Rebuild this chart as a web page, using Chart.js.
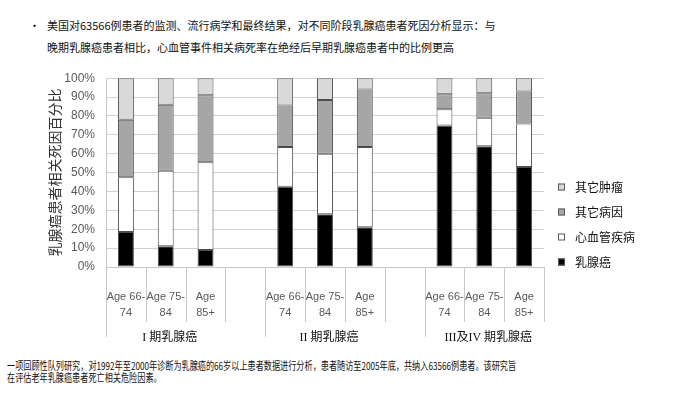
<!DOCTYPE html>
<html lang="zh">
  <head>
    <meta charset="UTF-8" />
    <title>乳腺癌患者死因分析</title>
    <style>
      body {
        margin: 0;
        width: 679px;
        height: 397px;
        background: #fff;
        position: relative;
        overflow: hidden;
        font-family: "Noto Sans CJK SC", sans-serif;
      }
      .head {
        position: absolute;
        left: 47px;
        top: 14px;
        font-size: 11px;
        line-height: 22px;
        color: #111;
      }
      .bullet {
        position: absolute;
        left: 29px;
        top: 14px;
        font-size: 11px;
        line-height: 22px;
      }
      .foot {
        position: absolute;
        left: 7px;
        top: 359px;
        font-size: 11px;
        line-height: 12px;
        color: #111;
        white-space: nowrap;
        transform: scaleX(0.74);
        transform-origin: left top;
      }
      .chart-box {
        position: absolute;
        left: 0;
        top: 60px;
        width: 679px;
        height: 290px;
      }
    </style>
    <script src="https://cdn.jsdelivr.net/npm/chart.js"></script>
  </head>
  <body>
    <div class="bullet">•</div>
    <div class="head">
      美国对63566例患者的监测、流行病学和最终结果，对不同阶段乳腺癌患者死因分析显示：与<br />
      晚期乳腺癌患者相比，心血管事件相关病死率在绝经后早期乳腺癌患者中的比例更高
    </div>
    <div class="chart-box">
      <canvas id="chart"></canvas>
    </div>
    <div class="foot">
      一项回顾性队列研究，对1992年至2000年诊断为乳腺癌的66岁以上患者数据进行分析，患者随访至2005年底，共纳入63566例患者。该研究旨<br />
      在评估老年乳腺癌患者死亡相关危险因素。
    </div>

    <script>
      // 11 category slots: 3 ages per stage, empty slot between stages
      const categories = [
        ["Age 66-", "74"], ["Age 75-", "84"], ["Age", "85+"], "",
        ["Age 66-", "74"], ["Age 75-", "84"], ["Age", "85+"], "",
        ["Age 66-", "74"], ["Age 75-", "84"], ["Age", "85+"],
      ];
      const breastCancer = [18.5, 11, 9, null, 42.5, 28, 21, null, 75, 64, 53];
      const cardio = [29, 40, 46.5, null, 21, 32, 42.5, null, 8.5, 15, 23];
      const otherDisease = [30.5, 35, 35.5, null, 22, 28.5, 30.5, null, 8, 13, 17];
      const otherTumor = [22, 14, 9, null, 14.5, 11.5, 6, null, 8.5, 8, 7];

      const seriesNames = ["乳腺癌", "心血管疾病", "其它病因", "其它肿瘤"];
      const seriesColors = ["#000000", "#ffffff", "#a6a6a6", "#d9d9d9"];

      const groupLabels = ["I 期乳腺癌", "II 期乳腺癌", "III及IV 期乳腺癌"];
      const groupStart = [0, 4, 8];
      const groupSize = 3;

      const yTitle = "乳腺癌患者相关死因百分比";

      const extras = {
        id: "extras",
        afterDraw(chart) {
          const ctx = chart.ctx;
          const x = chart.scales.x;
          const area = chart.chartArea;
          const step = x.getPixelForValue(1) - x.getPixelForValue(0);
          ctx.save();

          // category separators under the axis
          ctx.strokeStyle = "#c8c8c8";
          ctx.lineWidth = 1;
          for (let i = 0; i <= categories.length; i++) {
            const px = Math.round(x.getPixelForValue(i) - step / 2) + 0.5;
            const long = groupStart.includes(i);
            ctx.beginPath();
            ctx.moveTo(px, area.bottom);
            ctx.lineTo(px, area.bottom + (long ? 70 : 55));
            ctx.stroke();
          }

          // stage labels
          ctx.fillStyle = "#111";
          ctx.font = '12px "Liberation Serif", "Noto Sans CJK SC"';
          ctx.textAlign = "center";
          ctx.textBaseline = "middle";
          groupLabels.forEach((lab, g) => {
            const a = x.getPixelForValue(groupStart[g]);
            const b = x.getPixelForValue(groupStart[g] + groupSize - 1);
            ctx.fillText(lab, (a + b) / 2 + 4, area.bottom + 71);
          });

          // legend, reversed
          ctx.font = '12px "Noto Sans CJK SC"';
          ctx.textAlign = "left";
          for (let i = 0; i < seriesNames.length; i++) {
            const cy = area.bottom - 5 - i * 25;
            ctx.fillStyle = seriesColors[i];
            ctx.fillRect(558, cy - 3.5, 7, 7);
            ctx.strokeStyle = "#595959";
            ctx.strokeRect(558.5, cy - 3, 6, 6);
            ctx.fillStyle = "#111";
            ctx.fillText(seriesNames[i], 575, cy);
          }

          // y axis title
          ctx.translate(55, (area.top + area.bottom) / 2);
          ctx.rotate(-Math.PI / 2);
          ctx.textAlign = "center";
          ctx.font = '14px "Noto Sans CJK SC"';
          ctx.fillStyle = "#333";
          ctx.fillText(yTitle, 0, 0);
          ctx.restore();
        },
      };

      const seriesData = [breastCancer, cardio, otherDisease, otherTumor];

      new Chart(document.getElementById("chart"), {
        type: "bar",
        data: {
          labels: categories,
          datasets: seriesData.map((d, i) => ({
            label: seriesNames[i],
            data: d,
            backgroundColor: seriesColors[i],
            borderColor: "#4d4d4d",
            borderWidth: 1,
            borderSkipped: false,
            barPercentage: 0.4,
            categoryPercentage: 1,
          })),
        },
        options: {
          responsive: true,
          maintainAspectRatio: false,
          animation: false,
          layout: { padding: { top: 18, right: 135, left: 0, bottom: 0 } },
          plugins: {
            legend: { display: false },
            tooltip: { enabled: false },
          },
          scales: {
            x: {
              stacked: true,
              grid: { display: false },
              border: { display: true, color: "#c8c8c8" },
              ticks: {
                autoSkip: false,
                maxRotation: 0,
                padding: 14,
                color: "#595959",
                font: { family: "Liberation Sans", size: 11, lineHeight: 1.45 },
              },
              afterFit(s) {
                s.height = 83;
              },
            },
            y: {
              stacked: true,
              min: 0,
              max: 100,
              ticks: {
                stepSize: 10,
                padding: 11,
                color: "#595959",
                font: { family: "Liberation Sans", size: 12 },
                callback: (v) => v + "%",
              },
              grid: { color: "#d0d0d0", drawTicks: false },
              border: { display: true, color: "#c8c8c8" },
              afterFit(s) {
                s.width = 106;
              },
            },
          },
        },
        plugins: [extras],
      });
    </script>
  </body>
</html>
